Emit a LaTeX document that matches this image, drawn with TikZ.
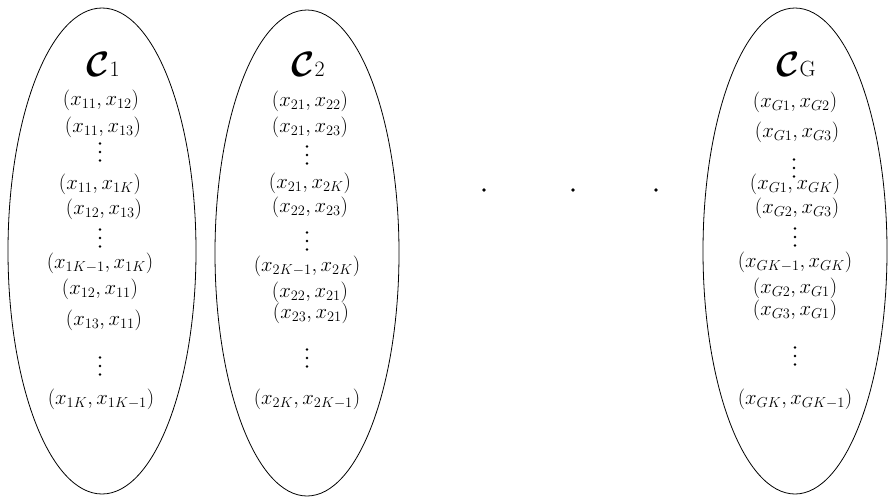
\documentclass[tikz,border=0pt]{standalone}
\usepackage{amsmath,bm}
\usetikzlibrary{shapes.geometric,calc}
% cluster heading: bold calligraphic C with an upright index
\newcommand{\clname}[1]{{\fontsize{20}{20}\selectfont\scalebox{1.7}{$\bm{\mathcal{C}}$}}{\fontsize{22}{22}\selectfont#1}}
% a column of three dots centred on the given point
\newcommand{\colonnade}[1]{%
  \foreach \dy in {-8.5,0,8.5} {\fill ($(#1)+(0,\dy)$) circle (1.35pt);}}
\tikzset{
  cluster/.style={draw, ellipse, line width=0.8pt, minimum width=188pt, minimum height=486pt, inner sep=0pt},
  pair/.style={inner sep=0pt, font=\fontsize{20}{22}\selectfont},
  head/.style={inner sep=0pt, anchor=base},
  sepdot/.style={circle, fill=black, inner sep=0pt, minimum size=3.8pt}
}
\begin{document}
\begin{tikzpicture}[x=1pt,y=-1pt]
\useasboundingbox (0,0) rectangle (888,496);

% the three clusters
\node[cluster] (e1) at (102,251) {};
\node[cluster, minimum width=184pt] (e2) at (307,253) {};
\node[cluster, minimum width=184pt] (eG) at (795,251) {};

% cluster 1
\node[head] (h1) at (103,76) {\clname{1}};
\node[pair] (a1) at (101,100) {$(x_{11},x_{12})$};
\node[pair] (a2) at (103,127) {$(x_{11},x_{13})$};
\coordinate (a3) at (100,152);
\node[pair] (a4) at (100,184) {$(x_{11},x_{1K})$};
\node[pair] (a5) at (104,209) {$(x_{12},x_{13})$};
\coordinate (a6) at (100,238);
\node[pair] (a7) at (100,263) {$(x_{1K-1},x_{1K})$};
\node[pair] (a8) at (100,289) {$(x_{12},x_{11})$};
\node[pair] (a9) at (104,320) {$(x_{13},x_{11})$};
\coordinate (a10) at (100,366);
\node[pair] (a11) at (101,399) {$(x_{1K},x_{1K-1})$};

% cluster 2
\node[head] (h2) at (308,76) {\clname{2}};
\node[pair] (b1) at (310,101) {$(x_{21},x_{22})$};
\node[pair] (b2) at (310,127) {$(x_{21},x_{23})$};
\coordinate (b3) at (307,155);
\node[pair] (b4) at (310,183) {$(x_{21},x_{2K})$};
\node[pair] (b5) at (310,207) {$(x_{22},x_{23})$};
\coordinate (b6) at (307,241);
\node[pair] (b7) at (307,266) {$(x_{2K-1},x_{2K})$};
\node[pair] (b8) at (310,292) {$(x_{22},x_{21})$};
\node[pair] (b9) at (311,313) {$(x_{23},x_{21})$};
\coordinate (b10) at (307,358);
\node[pair] (b11) at (307,399) {$(x_{2K},x_{2K-1})$};

% cluster G
\node[head] (hG) at (796,76) {\clname{G}};
\node[pair] (g1) at (795,102) {$(x_{G1},x_{G2})$};
\node[pair] (g2) at (797,132) {$(x_{G1},x_{G3})$};
\coordinate (g3) at (794,168);
\node[pair] (g4) at (795,184) {$(x_{G1},x_{GK})$};
\node[pair] (g5) at (797,208) {$(x_{G2},x_{G3})$};
\coordinate (g6) at (795,237);
\node[pair] (g7) at (795,262) {$(x_{GK-1},x_{GK})$};
\node[pair] (g8) at (795,288) {$(x_{G2},x_{G1})$};
\node[pair] (g9) at (795,310) {$(x_{G3},x_{G1})$};
\coordinate (g10) at (795,356);
\node[pair] (g11) at (795,399) {$(x_{GK},x_{GK-1})$};

% vertical ellipses inside the clusters
\foreach \c in {a3,a6,a10,b3,b6,b10,g3,g6,g10} {\colonnade{\c}}

% ellipsis between the clusters
\node[sepdot] (d1) at (484,190) {};
\node[sepdot] (d2) at (573,190) {};
\node[sepdot] (d3) at (656,190) {};
\end{tikzpicture}
\end{document}
